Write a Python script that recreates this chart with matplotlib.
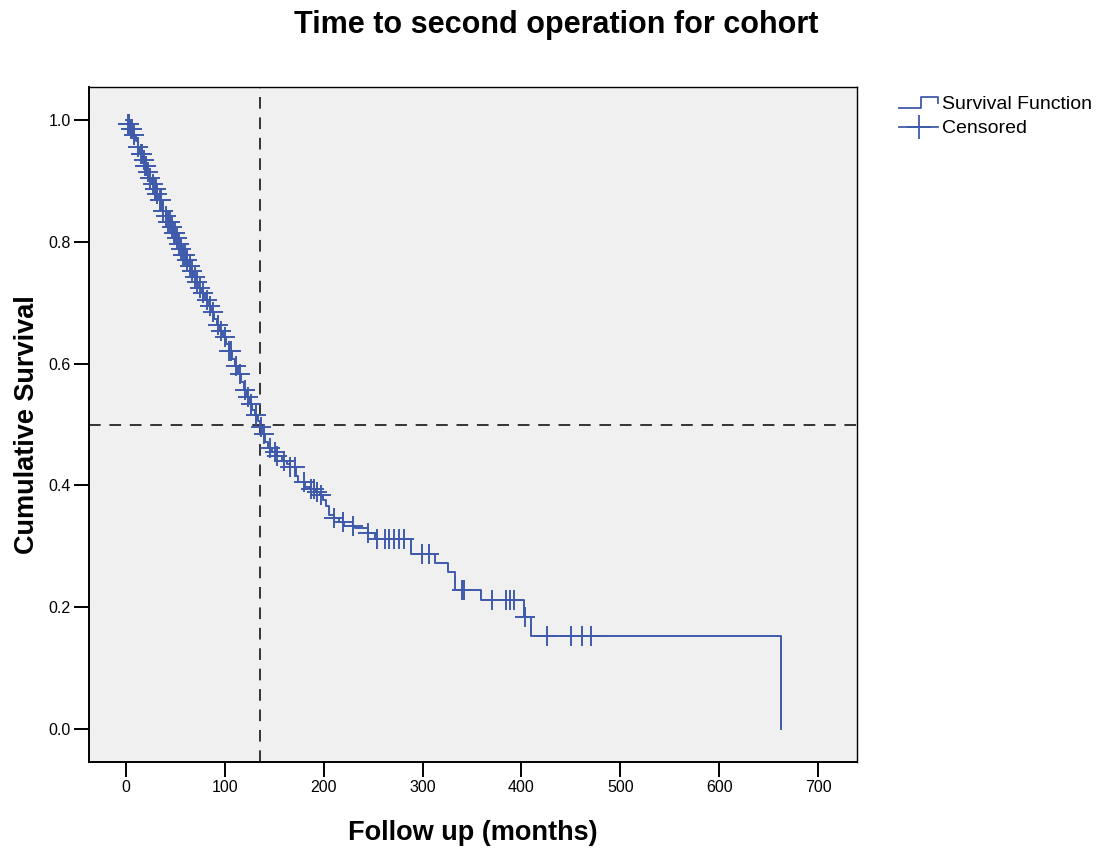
import numpy as np
import matplotlib
matplotlib.use("Agg")
import matplotlib.pyplot as plt
from matplotlib.lines import Line2D
from matplotlib.legend_handler import HandlerBase

plt.rcParams["font.family"] = ["Liberation Sans", "DejaVu Sans"]

# Kaplan-Meier step function (months, survival after step)
event_months = [0, 2, 5, 8, 10, 12, 14, 17, 19, 21, 24, 26, 28, 31, 33, 36, 38, 41, 43, 46,
                48, 51, 53, 56, 58, 61, 63, 66, 68, 71, 74, 77, 80, 83, 86, 89, 92, 95, 98,
                101, 104, 107, 110, 113, 116, 119, 122, 125, 128, 131, 134, 136, 138, 141,
                144, 148, 153, 158, 163, 166, 172, 174, 181, 186, 191, 196, 199, 202, 205,
                210, 216, 221, 232, 245, 252, 288, 313, 326, 333, 359, 403, 410, 663]
survival = [1.000, 0.994, 0.985, 0.975, 0.965, 0.955, 0.945, 0.935, 0.925, 0.915, 0.905,
            0.895, 0.887, 0.878, 0.869, 0.860, 0.851, 0.842, 0.833, 0.824, 0.815, 0.806,
            0.797, 0.788, 0.779, 0.770, 0.761, 0.752, 0.743, 0.734, 0.725, 0.716, 0.705,
            0.695, 0.685, 0.674, 0.664, 0.653, 0.643, 0.632, 0.620, 0.608, 0.596, 0.583,
            0.570, 0.557, 0.545, 0.533, 0.524, 0.515, 0.506, 0.496, 0.485, 0.472, 0.462,
            0.455, 0.449, 0.441, 0.436, 0.430, 0.415, 0.406, 0.398, 0.394, 0.389, 0.384,
            0.376, 0.366, 0.352, 0.346, 0.340, 0.333, 0.330, 0.322, 0.312, 0.288, 0.273,
            0.258, 0.228, 0.212, 0.184, 0.153, 0.000]

# censored observations (months)
censored_months = [2, 3, 5, 6, 8, 12, 15, 16, 18, 19, 20, 22, 24, 27, 29, 30, 31, 34, 35, 38,
                   41, 43, 45, 47, 49, 50, 52, 54, 56, 58, 60, 62, 65, 67, 70, 72, 75, 78, 82,
                   85, 88, 93, 96, 100, 104, 106, 111, 115, 120, 123, 127, 132, 137, 140, 146,
                   151, 153, 160, 166, 171, 180, 187, 190, 193, 197, 210, 220, 230, 245, 254,
                   262, 266, 271, 276, 281, 299, 307, 340, 342, 370, 384, 388, 392, 404, 426,
                   450, 461, 470]

median_month = 135.5
median_surv = 0.5

title = "Time to second operation for cohort"
xlabel = "Follow up (months)"
ylabel = "Cumulative Survival"
xticks = [0, 100, 200, 300, 400, 500, 600, 700]
yticks = [0.0, 0.2, 0.4, 0.6, 0.8, 1.0]

line_color = "#3f5aab"


class StepHandler(HandlerBase):
    def create_artists(self, legend, orig_handle, xdescent, ydescent, width, height, fontsize, trans):
        x0, w, h = -xdescent, width, height
        xs = [x0, x0 + 0.55 * w, x0 + 0.55 * w, x0 + w, x0 + w]
        ys = [0.1 * h, 0.1 * h, 0.9 * h, 0.9 * h, 0.4 * h]
        ln = Line2D(xs, ys, color=line_color, lw=1.3, transform=trans)
        return [ln]


fig = plt.figure(figsize=(10.98, 8.5), dpi=100)
ax = fig.add_axes([0.081, 0.1035, 0.6995, 0.794])
ax.set_facecolor("#f0f0f0")

t = np.array(event_months, dtype=float)
s = np.array(survival)
ax.step(t, s, where="post", color=line_color, lw=1.4, zorder=3)

c = np.array(censored_months, dtype=float)
idx = np.searchsorted(t, c, side="right") - 1
ax.plot(c, s[idx], linestyle="none", marker="+", markersize=14, mew=1.4,
        color=line_color, zorder=4)

ax.axvline(median_month, color="#333333", lw=1.4, dashes=(6, 4.5), zorder=2)
ax.axhline(median_surv, color="#333333", lw=1.4, dashes=(6, 4.5), zorder=2)

ax.set_xlim(-37.4, 739.4)
ax.set_ylim(-0.054, 1.054)
ax.set_xticks(xticks)
ax.set_yticks(yticks)
ax.set_yticklabels(["%.1f" % v for v in yticks])
ax.tick_params(direction="out", length=11, width=1.4, labelsize=11.5, colors="black", pad=2)
for side in ["top", "right"]:
    ax.spines[side].set_linewidth(1.0)
for side in ["left", "bottom"]:
    ax.spines[side].set_linewidth(1.4)

ax.set_xlabel(xlabel, fontsize=19.5, fontweight="bold", labelpad=18)
ax.set_ylabel(ylabel, fontsize=19.5, fontweight="bold", labelpad=6)
fig.text(0.507, 0.988, title, ha="center", va="top", fontsize=22, fontweight="bold")

surv_handle = Line2D([], [], color=line_color)
cens_handle = Line2D([], [], color=line_color, marker="+", markersize=17, mew=1.3, lw=1.3)
leg = fig.legend([surv_handle, cens_handle], ["Survival Function", "Censored"],
                 handler_map={surv_handle: StepHandler()},
                 loc="upper left", bbox_to_anchor=(0.812, 0.897), frameon=False,
                 fontsize=14, handlelength=2.0, handletextpad=0.2, labelspacing=0.35,
                 borderaxespad=0)

fig.savefig("out.png", dpi=100, facecolor="white")
